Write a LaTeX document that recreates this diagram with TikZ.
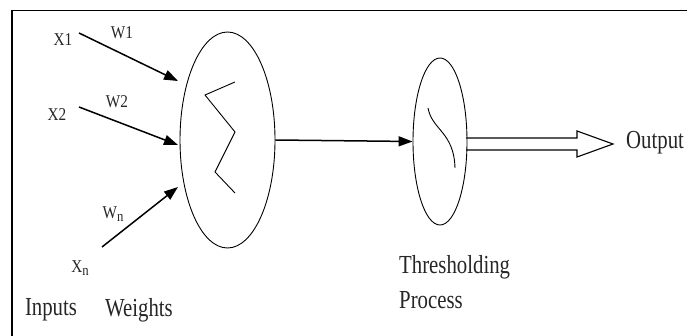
\documentclass[tikz,border=0pt]{standalone}
\usepackage{fontspec}
\setmainfont{Liberation Serif}
\usetikzlibrary{shapes.geometric,arrows.meta}
\newcommand{\narrowbig}[1]{\scalebox{0.8}[1]{\fontsize{26}{28}\selectfont #1}}
\newcommand{\narrowlbl}[1]{\scalebox{0.85}[1]{\fontsize{18}{20}\selectfont #1}}
\newcommand{\subn}{\raisebox{-2.5pt}{\fontsize{15}{16}\selectfont n}}
\begin{document}
\begin{tikzpicture}[x=1pt,y=-1pt,
  lbl/.style={inner sep=0pt, text=black!85},
  big/.style={inner sep=0pt, text=black!85},
  oval/.style={draw, ellipse, inner sep=0pt, line width=0.9pt},
  wire/.style={line width=1.5pt, -{Triangle[length=14pt,width=10pt]}}
]
\useasboundingbox (0,0) rectangle (687,336);
% frame (top and left only)
\draw[line width=1.4pt] (687,10.5) -- (12,10.5) -- (12,336);

% main ellipses
\node[oval, minimum width=95pt, minimum height=216pt] (sum) at (227.5,140) {};
\node[oval, minimum width=54pt, minimum height=167pt] (thr) at (440,141.5) {};

% sigma zigzag
\draw[line width=0.9pt] (235,82) -- (205,95) -- (235,132) -- (215,172) -- (235,193);
% threshold s-curve
\draw[line width=0.9pt] (428,108) .. controls (432,130) and (454,132) .. (455,168);

% labels
\node[lbl] (x1) at (63,40) {\narrowlbl{X1}};
\node[lbl] (w1) at (122,33) {\narrowlbl{W1}};
\node[lbl] (x2) at (57,115) {\narrowlbl{X2}};
\node[lbl] (w2) at (117,102) {\narrowlbl{W2}};
\node[lbl] (wn) at (113,214) {\narrowlbl{W\subn}};
\node[lbl] (xn) at (80,268) {\narrowlbl{X\subn}};
\node[big] (inp) at (51,310) {\narrowbig{Inputs}};
\node[big] (wts) at (139,310) {\narrowbig{Weights}};
\node[big, anchor=west] (th1) at (399,267) {\narrowbig{Thresholding}};
\node[big, anchor=west] (th2) at (399,300) {\narrowbig{Process}};
\node[big, anchor=west] (out) at (626,143) {\narrowbig{Output}};

% input arrows
\coordinate (a1) at (79,33);   \coordinate (b1) at (178,81);
\coordinate (a2) at (79,107);  \coordinate (b2) at (178,145);
\coordinate (an) at (102,247); \coordinate (bn) at (178,187);
\draw[wire] (a1) -- (b1);
\draw[wire] (a2) -- (b2);
\draw[wire] (an) -- (bn);

% sum -> threshold
\draw[wire] (sum.east) -- (thr.west);

% hollow output arrow
\coordinate (o1) at (466,138);
\coordinate (o2) at (466,150);
\draw[line width=1.1pt, line join=miter] (o1) -- (577,138) -- (577,131) -- (613,144) -- (577,157) -- (577,150) -- (o2);
\end{tikzpicture}
\end{document}
